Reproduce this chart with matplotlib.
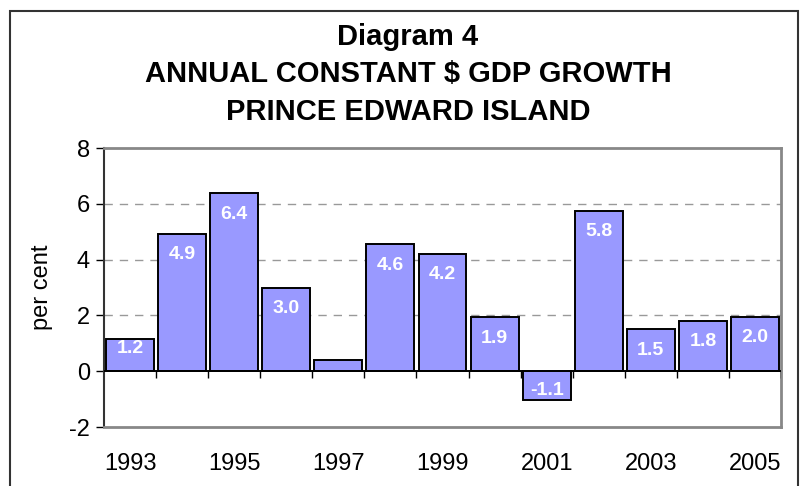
import matplotlib
matplotlib.use("Agg")
import matplotlib.pyplot as plt
from matplotlib.patches import Rectangle
import numpy as np

plt.rcParams['font.family'] = ['Liberation Sans', 'DejaVu Sans']

years = [1993, 1994, 1995, 1996, 1997, 1998, 1999, 2000, 2001, 2002, 2003, 2004, 2005]
growth = [1.15, 4.93, 6.38, 3.0, 0.4, 4.55, 4.2, 1.93, -1.05, 5.75, 1.5, 1.8, 1.95]
labels = ["1.2", "4.9", "6.4", "3.0", "", "4.6", "4.2", "1.9", "-1.1", "5.8", "1.5", "1.8", "2.0"]
year_ticks = [1993, 1995, 1997, 1999, 2001, 2003, 2005]
y_ticks = [-2, 0, 2, 4, 6, 8]
title_lines = ["Diagram 4", "ANNUAL CONSTANT $ GDP GROWTH", "PRINCE EDWARD ISLAND"]
ylabel = "per cent"

W, H = 801, 486
fig = plt.figure(figsize=(W / 100, H / 100), dpi=100)
fig.patch.set_facecolor('white')

# outer frame
fig.add_artist(Rectangle((10 / W, -0.1), (798 - 10) / W, 1.1 - 11 / H,
                         transform=fig.transFigure, fill=False,
                         edgecolor='#333333', linewidth=1.5))

ax = fig.add_axes([104 / W, 1 - 427 / H, (781 - 104) / W, (427 - 148) / H])
x = np.arange(len(years))
ax.bar(x, growth, width=0.92, color='#9999FF', edgecolor='black', linewidth=1.4, zorder=3)

ax.set_xlim(-0.5, len(years) - 0.5)
ax.set_ylim(-2, 8)

ax.set_yticks(y_ticks)
ax.set_yticklabels([str(v) for v in y_ticks], fontsize=17)
ax.tick_params(axis='y', direction='out', length=6, width=1, color='black', pad=4)

ax.set_xticks([years.index(y) for y in year_ticks])
ax.set_xticklabels([str(y) for y in year_ticks], fontsize=17)
ax.tick_params(axis='x', length=0, pad=19)

for s in ['top', 'right', 'bottom']:
    ax.spines[s].set_color('#888888')
    ax.spines[s].set_linewidth(2)
ax.spines['left'].set_color('#333333')
ax.spines['left'].set_linewidth(1.5)

for g in [2, 4, 6]:
    ax.axhline(g, color='#999999', linestyle=(0, (6, 5)), linewidth=1, zorder=1)
ax.axhline(0, color='black', linewidth=1.4, zorder=4)
# category boundary tick marks at zero line
bounds = x[:-1] + 0.5
ax.vlines(np.append(bounds, len(years) - 0.5), 0, -0.25, color='black', linewidth=1, zorder=4)

ax.set_ylabel(ylabel, fontsize=17, labelpad=12)

for xi, v, lab in zip(x, growth, labels):
    if not lab:
        continue
    if v < 0:
        off = 7
    elif v < 1.3:
        off = -7
    else:
        off = -15
    ax.annotate(lab, (xi, v), xytext=(0, off), textcoords='offset points',
                ha='center', va='center', color='white', fontsize=14,
                fontweight='bold', zorder=5)

base_y = [45, 82, 120]
for line, by in zip(title_lines, base_y):
    fig.text(408 / W, 1 - by / H, line, ha='center', va='baseline',
             fontsize=21, fontweight='bold')

fig.savefig('out.png', dpi=100)
